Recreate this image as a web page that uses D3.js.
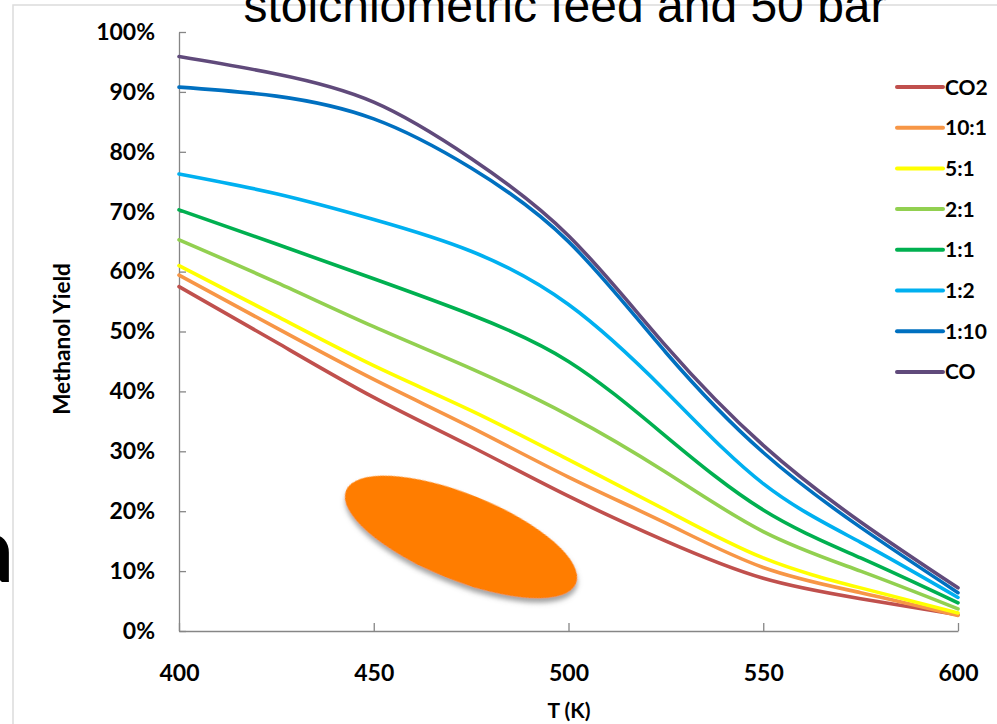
<!DOCTYPE html>
<html>
<head>
<meta charset="utf-8">
<script src="https://cdn.jsdelivr.net/npm/d3@7"></script>
<style>
  html, body { margin: 0; padding: 0; background: #fff; }
  svg { display: block; }
</style>
</head>
<body>
<svg id="chart" width="997" height="724"></svg>
<script>
// Temperatures (K) at which the yield was sampled
const temperatures = [400, 425, 450, 475, 500, 525, 550, 575, 600];

// Feed names, in legend order
const seriesNames = ["CO2", "10:1", "5:1", "2:1", "1:1", "1:2", "1:10", "CO"];
const seriesColors = ["#C0504D", "#F79646", "#FFFF00", "#92D050", "#00B050", "#00B0F0", "#0070C0", "#604A7B"];

// Methanol yield (%) for each feed
const yieldCO2  = [57.5, 48.2, 39.0, 30.8, 22.5, 15.0,  8.8, 5.4, 2.7];
const yield10_1 = [59.4, 50.6, 42.0, 34.0, 25.7, 18.0, 10.6, 6.4, 2.6];
const yield5_1  = [61.0, 52.6, 44.3, 36.8, 28.6, 20.2, 12.2, 7.2, 3.0];
const yield2_1  = [65.3, 58.2, 50.8, 43.8, 36.0, 26.5, 16.6, 10.0, 3.7];
const yield1_1  = [70.3, 64.6, 58.8, 52.8, 45.0, 32.5, 20.2, 12.2, 4.7];
const yield1_2  = [76.3, 73.0, 68.7, 63.4, 54.5, 40.0, 24.6, 14.8, 5.6];
const yield1_10 = [90.8, 89.3, 85.5, 77.3, 65.0, 46.5, 29.8, 17.3, 6.4];
const yieldCO   = [95.9, 93.0, 88.3, 78.9, 66.0, 47.6, 31.0, 18.2, 7.2];
const seriesValues = [yieldCO2, yield10_1, yield5_1, yield2_1, yield1_1, yield1_2, yield1_10, yieldCO];

// Axis ticks
const xTicks = [400, 450, 500, 550, 600];
const yTicks = [0, 0.1, 0.2, 0.3, 0.4, 0.5, 0.6, 0.7, 0.8, 0.9, 1.0];

const svg = d3.select("#chart");
const labelFont = "Lato, 'Open Sans', sans-serif";

// Slide frame edge
svg.append("path")
  .attr("d", "M13,724 V5 H997")
  .attr("fill", "none")
  .attr("stroke", "#dcdcdc")
  .attr("stroke-width", 1.5);

// Title (partly above the visible area)
svg.append("text")
  .attr("x", 565).attr("y", 22)
  .attr("text-anchor", "middle")
  .attr("font-family", "'Liberation Sans', Arial, sans-serif")
  .attr("font-size", 48)
  .attr("fill", "#000")
  .text("stoichiometric feed and 50 bar");

// Panel letter at the left edge
svg.append("text")
  .attr("x", 14).attr("y", 582)
  .attr("text-anchor", "end")
  .attr("font-family", labelFont)
  .attr("font-weight", 700)
  .attr("font-size", 92)
  .attr("fill", "#000")
  .text("a");

const x = d3.scaleLinear().domain([400, 600]).range([179, 958]);
const y = d3.scaleLinear().domain([0, 1]).range([631, 32]);

// Axes with inward ticks
const yAxis = d3.axisLeft(y).tickValues(yTicks).tickFormat(d3.format(".0%"))
  .tickSizeInner(-7).tickSizeOuter(0).tickPadding(24);
const xAxis = d3.axisBottom(x).tickValues(xTicks).tickFormat(d3.format("d"))
  .tickSizeInner(-8).tickSizeOuter(0).tickPadding(34);

const gy = svg.append("g").attr("transform", `translate(${x(400)},0)`).call(yAxis);
const gx = svg.append("g").attr("transform", `translate(0,${y(0)})`).call(xAxis);

[gx, gy].forEach(g => {
  g.select(".domain").attr("stroke", "#868686").attr("stroke-width", 1.3);
  g.selectAll(".tick line").attr("stroke", "#868686").attr("stroke-width", 1.3);
  g.selectAll(".tick text")
    .attr("font-family", labelFont)
    .attr("font-weight", 700)
    .attr("font-size", 23)
    .attr("fill", "#000");
});

// Axis titles
svg.append("text")
  .attr("transform", "translate(70,339) rotate(-90)")
  .attr("text-anchor", "middle")
  .attr("font-family", labelFont)
  .attr("font-weight", 700)
  .attr("font-size", 22.5)
  .attr("fill", "#000")
  .text("Methanol Yield");

svg.append("text")
  .attr("x", 569).attr("y", 718)
  .attr("text-anchor", "middle")
  .attr("font-family", labelFont)
  .attr("font-weight", 700)
  .attr("font-size", 21)
  .attr("fill", "#000")
  .text("T (K)");

// Yield curves (smooth spline through the sampled points)
const line = d3.line()
  .x((d, i) => x(temperatures[i]))
  .y(d => y(d / 100))
  .curve(d3.curveNatural);

svg.append("g").selectAll("path")
  .data(seriesValues)
  .join("path")
  .attr("d", d => line(d))
  .attr("fill", "none")
  .attr("stroke", (d, i) => seriesColors[i])
  .attr("stroke-width", 3.6)
  .attr("stroke-linecap", "round");

// Legend
const legend = svg.append("g");
const legendItems = legend.selectAll("g")
  .data(seriesNames)
  .join("g")
  .attr("transform", (d, i) => `translate(897,${87 + i * 40.7})`);
legendItems.append("line")
  .attr("x1", 0).attr("x2", 46)
  .attr("stroke", (d, i) => seriesColors[i])
  .attr("stroke-width", 4)
  .attr("stroke-linecap", "round");
legendItems.append("text")
  .attr("x", 48).attr("y", 0)
  .attr("dy", "0.36em")
  .attr("font-family", labelFont)
  .attr("font-weight", 700)
  .attr("font-size", 21)
  .attr("fill", "#000")
  .text(d => d);

// Orange highlight ellipse with a soft shadow
const defs = svg.append("defs");
const shadow = defs.append("filter").attr("id", "shade")
  .attr("x", "-20%").attr("y", "-20%").attr("width", "140%").attr("height", "150%");
shadow.append("feDropShadow")
  .attr("dx", 2).attr("dy", 4).attr("stdDeviation", 2.5)
  .attr("flood-color", "#555").attr("flood-opacity", 0.55);

svg.append("ellipse")
  .attr("cx", 461).attr("cy", 537)
  .attr("rx", 124).attr("ry", 43)
  .attr("transform", "rotate(22 461 537)")
  .attr("fill", "#FF7D00")
  .attr("filter", "url(#shade)");
</script>
</body>
</html>
